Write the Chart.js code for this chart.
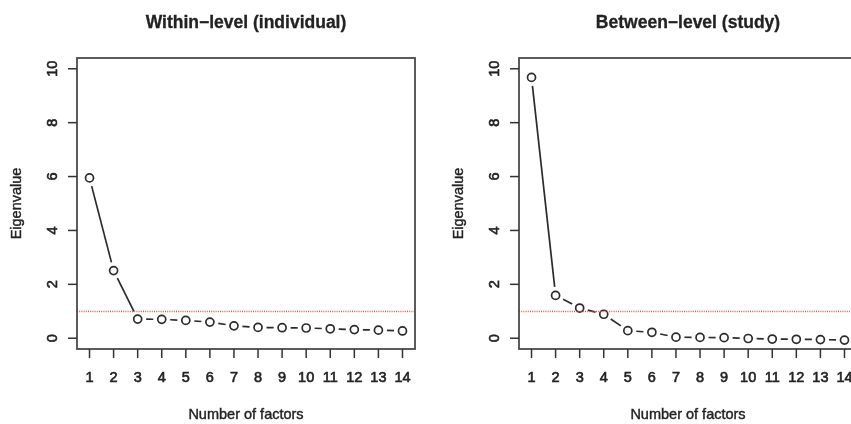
<!DOCTYPE html>
<html>
<head>
<meta charset="utf-8">
<script src="https://cdn.jsdelivr.net/npm/chart.js@4.4.0/dist/chart.umd.min.js"></script>
<style>
body{margin:0;background:#fff;width:851px;height:424px;overflow:hidden;position:relative;}
canvas{position:absolute;top:0;}
</style>
</head>
<body>
<canvas id="withinChart" width="442" height="424" style="left:0px"></canvas>
<canvas id="betweenChart" width="442" height="424" style="left:442px"></canvas>
<script>
// DATA
const factors=[1,2,3,4,5,6,7,8,9,10,11,12,13,14];
const withinEigen=[5.95,2.51,0.71,0.70,0.66,0.60,0.46,0.40,0.39,0.38,0.35,0.32,0.30,0.27];
const betweenEigen=[9.68,1.59,1.12,0.89,0.28,0.22,0.04,0.03,0.02,-0.01,-0.03,-0.04,-0.05,-0.07];
const yTicks=[0,2,4,6,8,10];
const kaiserLine=1;
const withinTitle="Within\u2212level (individual)";
const betweenTitle="Between\u2212level (study)";
const xTitle="Number of factors";
const yTitle="Eigenvalue";

const FONT="'Liberation Sans', Arial, Helvetica, sans-serif";
const INK="#222";

// text with a thin outline so it looks as heavy as the scan
function heavyText(ctx,txt,x,y,w){
    ctx.lineWidth=w;
    ctx.strokeStyle=INK;
    ctx.strokeText(txt,x,y);
    ctx.fillText(txt,x,y);
}

// R STYLE PLUGIN (box, ticks, labels, type="b" lines, abline)
const rStyle={
    id:"rStyle",
    afterDatasetsDraw(chart){
        const ctx=chart.ctx;
        const area=chart.chartArea;
        const xs=chart.scales.x;
        const ys=chart.scales.y;
        const meta=chart.getDatasetMeta(0);
        const gap=8.5;

        ctx.save();

        // lines between points with gaps
        ctx.strokeStyle="#2b2b2b";
        ctx.lineWidth=1.7;
        for(let i=0;i<meta.data.length-1;i++){
            const p=meta.data[i], q=meta.data[i+1];
            const dx=q.x-p.x, dy=q.y-p.y;
            const len=Math.sqrt(dx*dx+dy*dy);
            if(len<=2*gap) continue;
            const ux=dx/len, uy=dy/len;
            ctx.beginPath();
            ctx.moveTo(p.x+ux*gap,p.y+uy*gap);
            ctx.lineTo(q.x-ux*gap,q.y-uy*gap);
            ctx.stroke();
        }

        // red dotted line at eigenvalue 1
        const yk=Math.round(ys.getPixelForValue(kaiserLine))+0.5;
        ctx.strokeStyle="#f2553a";
        ctx.lineWidth=1.3;
        ctx.setLineDash([1,1.2]);
        ctx.beginPath();
        ctx.moveTo(area.left,yk);
        ctx.lineTo(area.right,yk);
        ctx.stroke();
        ctx.setLineDash([]);

        // box
        ctx.strokeStyle="#4a4a4a";
        ctx.lineWidth=1.8;
        ctx.strokeRect(area.left,area.top,area.right-area.left,area.bottom-area.top);

        // y ticks + labels
        ctx.fillStyle=INK;
        ctx.font="14.5px "+FONT;
        ctx.textAlign="center";
        ctx.textBaseline="middle";
        yTicks.forEach(v=>{
            const y=ys.getPixelForValue(v);
            ctx.strokeStyle="#333";
            ctx.lineWidth=1.5;
            ctx.beginPath();
            ctx.moveTo(area.left-9,y);
            ctx.lineTo(area.left,y);
            ctx.stroke();
            ctx.save();
            ctx.translate(area.left-24,y);
            ctx.rotate(-Math.PI/2);
            heavyText(ctx,String(v),0,0,0.6);
            ctx.restore();
        });

        // x ticks + labels
        factors.forEach(v=>{
            const x=xs.getPixelForValue(v);
            ctx.strokeStyle="#333";
            ctx.lineWidth=1.5;
            ctx.beginPath();
            ctx.moveTo(x,area.bottom);
            ctx.lineTo(x,area.bottom+9);
            ctx.stroke();
            heavyText(ctx,String(v),x,area.bottom+29,0.6);
        });

        // axis titles
        const cx=(area.left+area.right)/2;
        heavyText(ctx,xTitle,cx,area.bottom+66,0.4);
        ctx.save();
        ctx.translate(17,(area.top+area.bottom)/2);
        ctx.rotate(-Math.PI/2);
        heavyText(ctx,yTitle,0,0,0.4);
        ctx.restore();

        // main title
        ctx.font="bold 17.5px "+FONT;
        ctx.textBaseline="alphabetic";
        heavyText(ctx,chart.options.plugins.rTitle,cx,27.5,0.3);

        ctx.restore();
    }
};

// BUILD ONE PANEL
function drawScree(id,values,title){
    const points=factors.map((f,i)=>({x:f,y:values[i]}));
    return new Chart(document.getElementById(id),{
        type:"scatter",
        data:{datasets:[{
            data:points,
            showLine:false,
            pointRadius:4,
            pointHoverRadius:4,
            pointBorderWidth:1.7,
            pointBorderColor:"#2b2b2b",
            pointBackgroundColor:"rgba(0,0,0,0)"
        }]},
        options:{
            responsive:false,
            animation:false,
            events:[],
            layout:{padding:{top:58,right:27,left:0,bottom:0}},
            plugins:{legend:{display:false},tooltip:{enabled:false},rTitle:title},
            scales:{
                x:{type:"linear",min:0.48,max:14.52,
                   grid:{display:false},border:{display:false},ticks:{display:false},
                   afterFit:s=>{s.height=75;}},
                y:{type:"linear",min:-0.4,max:10.4,
                   grid:{display:false},border:{display:false},ticks:{display:false},
                   afterFit:s=>{s.width=77;}}
            }
        },
        plugins:[rStyle]
    });
}

drawScree("withinChart",withinEigen,withinTitle);
drawScree("betweenChart",betweenEigen,betweenTitle);
</script>
</body>
</html>
